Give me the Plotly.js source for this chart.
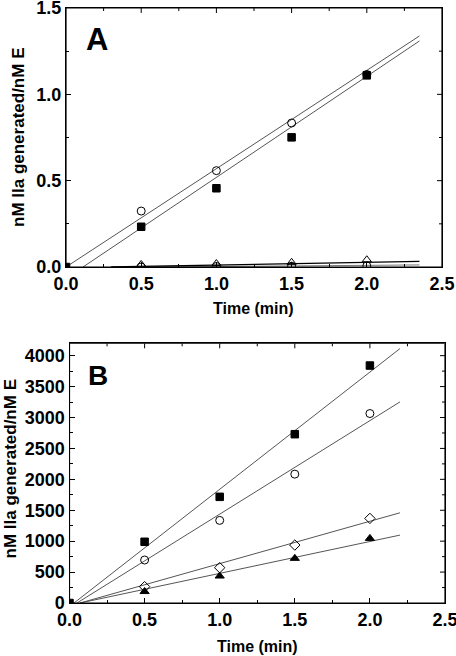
<!DOCTYPE html>
<html>
<head>
<meta charset="utf-8">
<script src="https://cdn.plot.ly/plotly-3.0.1.min.js"></script>
<style>html,body{margin:0;padding:0;background:#fff;}#chart{width:456px;height:656px;}</style>
</head>
<body>
<div id="chart"></div>
<script>
// ---------- Panel A data ----------
const timeA = [0, 0.5, 1.0, 1.5, 2.0];
const squaresA = [0, 0.233, 0.456, 0.751, 1.11];
const timeA4 = [0.5, 1.0, 1.5, 2.0];
const circlesA = [0.324, 0.558, 0.834, 1.115];
const circlesLowA = [0.0, 0.003, 0.005, 0.006];
const trianglesA = [0.015, 0.02, 0.027, 0.042];
// fitted lines (endpoints)
const fitA_circle_x = [0, 2.35];
const fitA_circle_y = [0, 1.338];
const fitA_square_x = [0.113, 2.35];
const fitA_square_y = [0, 1.309];
const fitA_tri_x = [0.3, 2.35];
const fitA_tri_y = [0, 0.032];
const fitA_low_x = [0.6, 2.35];
const fitA_low_y = [0, 0.012];

// ---------- Panel B data ----------
const timeB = [0, 0.5, 1.0, 1.5, 2.0];
const squaresB = [0, 990, 1717, 2730, 3840];
const timeB4 = [0.5, 1.0, 1.5, 2.0];
const circlesB = [695, 1336, 2084, 3064];
const diamondsB = [264, 571, 937, 1368];
const trianglesB = [185, 436, 722, 1045];
const fitB_square_x = [0.03, 2.2];
const fitB_square_y = [0, 4114];
const fitB_circle_x = [0.05, 2.2];
const fitB_circle_y = [0, 3252];
const fitB_diamond_x = [0.07, 2.2];
const fitB_diamond_y = [0, 1459];
const fitB_tri_x = [0.07, 2.2];
const fitB_tri_y = [0, 1098];

const xTitle = 'Time (min)';
const yTitle = 'nM IIa generated/nM E';

const FONT = 'Liberation Sans, Arial, sans-serif';
const lineStyle = {color: '#555555', width: 1};

function fit(x, y, xa, ya, style) {
  return {x: x, y: y, xaxis: xa, yaxis: ya, mode: 'lines', line: style || lineStyle, hoverinfo: 'skip', showlegend: false};
}
function pts(x, y, xa, ya, symbol, size) {
  return {x: x, y: y, xaxis: xa, yaxis: ya, mode: 'markers', showlegend: false,
    marker: {symbol: symbol, size: size, color: '#000', line: {color: '#000', width: 1}}};
}

const data = [
  fit(fitA_circle_x, fitA_circle_y, 'x', 'y'),
  fit(fitA_square_x, fitA_square_y, 'x', 'y'),
  fit(fitA_low_x, fitA_low_y, 'x', 'y', {color: '#777', width: 1}),
  fit(fitA_tri_x, fitA_tri_y, 'x', 'y', {color: '#000', width: 1.3}),
  pts(timeA4, circlesLowA, 'x', 'y', 'circle-open', 8),
  pts(timeA4, trianglesA, 'x', 'y', 'triangle-up-open', 8),
  pts(timeA4, circlesA, 'x', 'y', 'circle-open', 8),
  pts(timeA, squaresA, 'x', 'y', 'square', 7.5),

  fit(fitB_square_x, fitB_square_y, 'x2', 'y2'),
  fit(fitB_circle_x, fitB_circle_y, 'x2', 'y2'),
  fit(fitB_diamond_x, fitB_diamond_y, 'x2', 'y2'),
  fit(fitB_tri_x, fitB_tri_y, 'x2', 'y2'),
  pts(timeB4, trianglesB, 'x2', 'y2', 'triangle-up', 8),
  pts(timeB4, diamondsB, 'x2', 'y2', 'diamond-open', 8),
  pts(timeB4, circlesB, 'x2', 'y2', 'circle-open', 8),
  pts(timeB, squaresB, 'x2', 'y2', 'square', 7.5)
];

const tickFont = {family: FONT, size: 18, color: '#000', weight: 700};
function axis(extra) {
  return Object.assign({
    showgrid: false, zeroline: false, showline: true, linecolor: '#000', linewidth: 1.2,
    mirror: true, ticks: 'inside', ticklen: 5, tickwidth: 1, tickcolor: '#000',
    tickfont: tickFont, fixedrange: true, ticklabeloverflow: 'allow'
  }, extra);
}

const W = 456, H = 656;
const boxA = {l: 66, r: 442, t: 8, b: 267};
const boxB = {l: 69.5, r: 445, t: 343.3, b: 603};
const MAJ = 5, MIN = 3;

// frame + mirrored ticks (top and right), drawn in data coordinates
function frameAndTicks(xa, ya, box, xr, yr, xMajor, yMajor) {
  const shapes = [];
  const pxW = box.r - box.l, pxH = box.b - box.t;
  const dxPerPx = (xr[1] - xr[0]) / pxW, dyPerPx = (yr[1] - yr[0]) / pxH;
  const ln = {color: '#000', width: 1};
  shapes.push({type: 'rect', xref: xa, yref: ya, x0: xr[0], x1: xr[1], y0: yr[0], y1: yr[1],
    line: {color: '#000', width: 1.2}, layer: 'above'});
  for (let v = xr[0] + xMajor / 2; v < xr[1] - 1e-9; v += xMajor / 2) {
    const isMaj = Math.abs(v / xMajor - Math.round(v / xMajor)) < 1e-6;
    const len = (isMaj ? MAJ : MIN) * dyPerPx;
    shapes.push({type: 'line', xref: xa, yref: ya, x0: v, x1: v, y0: yr[1], y1: yr[1] - len, line: ln, layer: 'above'});
  }
  for (let v = yr[0] + yMajor / 2; v < yr[1] - 1e-9; v += yMajor / 2) {
    const isMaj = Math.abs(v / yMajor - Math.round(v / yMajor)) < 1e-6;
    const len = (isMaj ? MAJ : MIN) * dxPerPx;
    shapes.push({type: 'line', xref: xa, yref: ya, x0: xr[1], x1: xr[1] - len, y0: v, y1: v, line: ln, layer: 'above'});
  }
  return shapes;
}

const layout = {
  width: W, height: H, autosize: false,
  margin: {l: 0, r: 0, t: 0, b: 0, pad: 0},
  paper_bgcolor: '#fff', plot_bgcolor: '#fff',
  showlegend: false,
  xaxis: axis({domain: [boxA.l / W, boxA.r / W], range: [0, 2.5], dtick: 0.5, tick0: 0, tickformat: '.1f', anchor: 'y',
    minor: {dtick: 0.25, ticklen: MIN, ticks: 'inside', tickcolor: '#000'}}),
  yaxis: axis({domain: [1 - boxA.b / H, 1 - boxA.t / H], range: [0, 1.5], dtick: 0.5, tick0: 0, tickformat: '.1f', anchor: 'x',
    minor: {dtick: 0.25, ticklen: MIN, ticks: 'inside', tickcolor: '#000'}}),
  xaxis2: axis({domain: [boxB.l / W, boxB.r / W], range: [0, 2.5], dtick: 0.5, tick0: 0, tickformat: '.1f', anchor: 'y2',
    minor: {dtick: 0.25, ticklen: MIN, ticks: 'inside', tickcolor: '#000'}}),
  yaxis2: axis({domain: [1 - boxB.b / H, 1 - boxB.t / H], range: [0, 4200], dtick: 500, tick0: 0, anchor: 'x2',
    minor: {dtick: 250, ticklen: MIN, ticks: 'inside', tickcolor: '#000'}}),
  shapes: frameAndTicks('x', 'y', boxA, [0, 2.5], [0, 1.5], 0.5, 0.5)
    .concat(frameAndTicks('x2', 'y2', boxB, [0, 2.5], [0, 4200], 0.5, 500)),
  annotations: [
    {text: 'A', xref: 'paper', yref: 'paper', x: 96.7 / W, y: 1 - 39 / H, showarrow: false,
      xanchor: 'center', yanchor: 'middle', font: {family: FONT, size: 31, color: '#000', weight: 700}},
    {text: 'B', xref: 'paper', yref: 'paper', x: 97.8 / W, y: 1 - 376 / H, showarrow: false,
      xanchor: 'center', yanchor: 'middle', font: {family: FONT, size: 28, color: '#000', weight: 700}},
    {text: xTitle, xref: 'paper', yref: 'paper', x: 254 / W, y: 1 - 309 / H, showarrow: false,
      xanchor: 'center', yanchor: 'middle', font: {family: FONT, size: 16, color: '#000', weight: 700}},
    {text: yTitle, xref: 'paper', yref: 'paper', x: 19 / W, y: 1 - 138 / H, showarrow: false, textangle: -90,
      xanchor: 'center', yanchor: 'middle', font: {family: FONT, size: 17, color: '#000', weight: 700}},
    {text: xTitle, xref: 'paper', yref: 'paper', x: 257 / W, y: 1 - 646 / H, showarrow: false,
      xanchor: 'center', yanchor: 'middle', font: {family: FONT, size: 16, color: '#000', weight: 700}},
    {text: yTitle, xref: 'paper', yref: 'paper', x: 9.5 / W, y: 1 - 469 / H, showarrow: false, textangle: -90,
      xanchor: 'center', yanchor: 'middle', font: {family: FONT, size: 17, color: '#000', weight: 700}}
  ]
};

Plotly.newPlot('chart', data, layout, {displayModeBar: false});
</script>
</body>
</html>
